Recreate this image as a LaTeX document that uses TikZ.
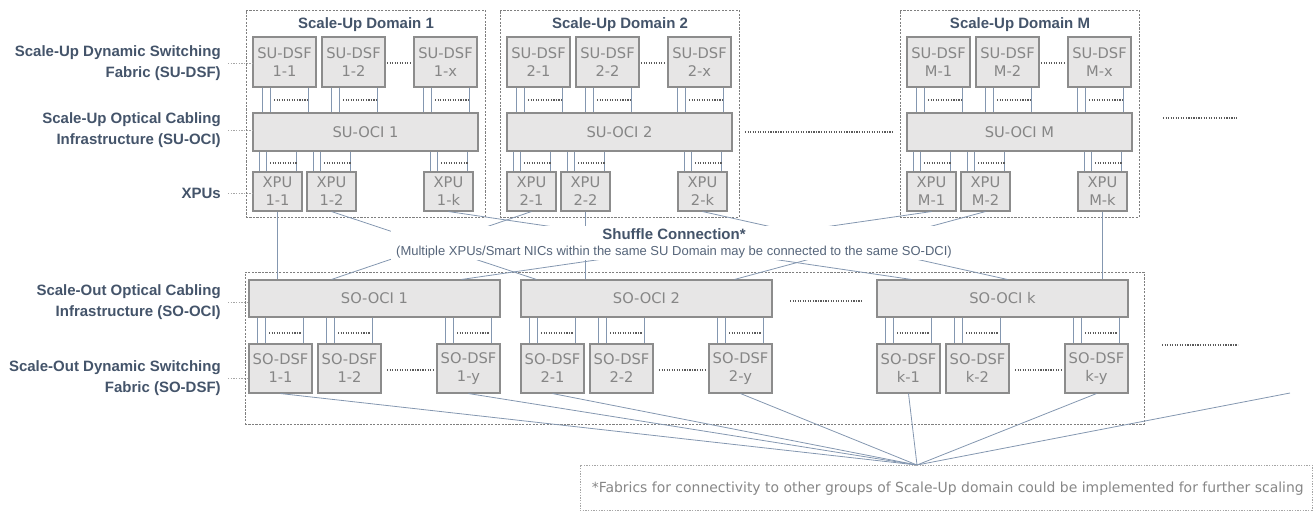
\documentclass[tikz,border=0pt]{standalone}
\usepackage{fontspec}
\setmainfont{Liberation Sans}
\newfontfamily\boxfont{DejaVu Sans}
\usetikzlibrary{fit,calc}

\definecolor{labelblue}{HTML}{44546A}
\definecolor{subblue}{HTML}{56657A}
\definecolor{boxfill}{HTML}{E7E6E6}
\definecolor{boxline}{HTML}{8C8C8C}
\definecolor{boxtext}{HTML}{868686}
\definecolor{linkcol}{HTML}{8497B0}
\definecolor{framecol}{HTML}{7F7F7F}
\definecolor{dotcol}{HTML}{5A5A5A}
\definecolor{notecol}{HTML}{A6A6A6}

\tikzset{
  box/.style={draw=boxline, fill=boxfill, line width=0.8pt, inner sep=0pt,
    align=center, text=boxtext, font=\boxfont\fontsize{11}{13.5}\selectfont},
  dsfbox/.style={box, minimum width=47.25pt, minimum height=37.5pt},
  xpubox/.style={box, minimum width=36.75pt, minimum height=29.25pt},
  suocibox/.style={box, minimum width=168.75pt, minimum height=28.5pt},
  soocibox/.style={box, minimum width=188.25pt, minimum height=27.75pt},
  sodsfbox/.style={box, minimum width=47.25pt, minimum height=36.75pt},
  frame/.style={draw=framecol, dash pattern=on 1.6pt off 1pt, line width=0.6pt, inner sep=0pt},
  noteframe/.style={draw=notecol, dash pattern=on 1pt off 1pt, line width=0.6pt, inner sep=0pt},
  link/.style={draw=linkcol, line width=0.6pt},
  dots/.style={draw=dotcol, line width=1.4pt, dash pattern=on 0.9pt off 1pt},
  leader/.style={draw=notecol, dash pattern=on 1pt off 1pt, line width=0.5pt},
  layerlabel/.style={font=\bfseries\fontsize{11.25}{15.75}\selectfont, text=labelblue,
    align=right, anchor=east, inner sep=0pt},
  domtitle/.style={font=\bfseries\fontsize{11.25}{13}\selectfont, text=labelblue, inner sep=0pt},
  notetext/.style={font=\boxfont\fontsize{10.45}{12}\selectfont, text=boxtext, inner sep=0pt},
}

% three parallel links between an upper node #1 and a lower node #2,
% placed at x-offsets #4, #5 from the left and #6 from the right of node #3
\newcommand\stublinks[6]{%
  \draw[link] ($(#3.west |- #1.south)+(#4,0)$) -- ($(#3.west |- #2.north)+(#4,0)$);
  \draw[link] ($(#3.west |- #1.south)+(#5,0)$) -- ($(#3.west |- #2.north)+(#5,0)$);
  \draw[link] ($(#3.east |- #1.south)+(-#6,0)$) -- ($(#3.east |- #2.north)+(-#6,0)$);
}

\begin{document}
\begin{tikzpicture}[x=0.75pt,y=-0.75pt]
\useasboundingbox (0,0) rectangle (1314,512);

% ---------------- Scale-Up domains ----------------
\foreach \d/\x in {1/253,2/507,M/907}{
  \node[frame, fit={(\x-7,10)(\x+232,217)}] (dom\d) {};
  \node[domtitle] (dtitle\d) at (\x+113,25) {Scale-Up Domain \d};
  \node[suocibox] (suoci\d) at (\x+112.5,132) {SU-OCI \d};
  % switching fabric boxes and their links down to the cabling layer
  \foreach \n/\o in {1/0,2/69,x/161}{
    \node[dsfbox] (sudsf\d-\n) at (\x+\o+31.5,62) {SU-DSF\\\d-\n};
    \stublinks{sudsf\d-\n}{suoci\d}{sudsf\d-\n}{10}{18}{8}
    \draw[dots] (\x+\o+21,100) -- (\x+\o+54,100);
  }
  \draw[dots] (\x+134,63) -- (\x+157,63);
  % XPUs and their links up to the cabling layer
  \foreach \n/\o in {1/0,2/54,k/171}{
    \node[xpubox] (xpu\d-\n) at (\x+\o+24.5,191.5) {XPU\\\d-\n};
    \stublinks{suoci\d}{xpu\d-\n}{xpu\d-\n}{7}{14}{6}
    \draw[dots] (\x+\o+17,163) -- (\x+\o+44,163);
  }
}
\draw[dots] (745,132) -- (893,132);
\draw[dots] (1163,118) -- (1237,118);

% ---------------- Scale-Out layer ----------------
\node[frame, fit={(245,272)(1144,424)}] (soframe) {};
\foreach \g/\x in {1/249,2/521,k/877}{
  \node[soocibox] (sooci\g) at (\x+125.5,298.5) {SO-OCI \g};
  \foreach \n/\o in {1/0,2/69,y/188}{
    \node[sodsfbox] (sodsf\g-\n) at (\x+\o+31.5,368.5) {SO-DSF\\\g-\n};
    \stublinks{sooci\g}{sodsf\g-\n}{sodsf\g-\n}{9}{17}{9}
    \draw[dots] (\x+\o+20,333) -- (\x+\o+52,333);
  }
  \draw[dots] (\x+138,370) -- (\x+186,370);
}
\draw[dots] (790,301) -- (863,301);
\draw[dots] (1162,345) -- (1238,345);

% ---------------- Shuffle connection ----------------
\draw[link] (xpu1-1.south) -- (xpu1-1.south |- sooci1.north);
\draw[link] (xpu2-1.south) -- ($(sooci1.north west)+(83,0)$);
\draw[link] (xpuM-1.south) -- ($(sooci1.north west)+(213,0)$);
\draw[link] (xpu1-2.south) -- ($(sooci2.north west)+(16,0)$);
\draw[link] (xpu2-2.south) -- (xpu2-2.south |- sooci2.north);
\draw[link] (xpuM-2.south) -- ($(sooci2.north west)+(214,0)$);
\draw[link] (xpu1-k.south) -- ($(soocik.north west)+(35,0)$);
\draw[link] (xpu2-k.south) -- ($(soocik.north west)+(131,0)$);
\draw[link] (xpuM-k.south) -- (xpuM-k.south |- soocik.north);

\node[fill=white, inner xsep=4pt, inner ysep=2pt, align=center] (shuffle) at (674,243)
  {{\bfseries\fontsize{11.25}{12.75}\selectfont\color{labelblue}Shuffle Connection*}\\
   {\fontsize{9.75}{12.75}\selectfont\color{subblue}(Multiple XPUs/Smart NICs within the same SU Domain may be connected to the same SO-DCI)}};

% ---------------- Fabric fan-out ----------------
\coordinate (hub) at (917,465);
\coordinate (farend) at (1290,393);
\foreach \s in {1-1,1-y,2-1,2-y,k-1,k-y}
  \draw[link] (sodsf\s.south) -- (hub);
\draw[link] (farend) -- (hub);

\node[noteframe, fit={(580,465)(1312,510)}] (note) {};
\node[notetext, anchor=west] (notetxt) at ($(note.west)+(12,1)$)
  {*Fabrics for connectivity to other groups of Scale-Up domain could be implemented for further scaling};

% ---------------- Layer labels ----------------
\node[layerlabel] (lsudsf) at (221,63) {Scale-Up Dynamic Switching\\Fabric (SU-DSF)};
\node[layerlabel] (lsuoci) at (221,130) {Scale-Up Optical Cabling\\Infrastructure (SU-OCI)};
\node[layerlabel] (lxpu) at (221,193) {XPUs};
\node[layerlabel] (lsooci) at (221,302) {Scale-Out Optical Cabling\\Infrastructure (SO-OCI)};
\node[layerlabel] (lsodsf) at (221,378) {Scale-Out Dynamic Switching\\Fabric (SO-DSF)};

\draw[leader] ($(lsudsf.east)+(7,0)$) -- (lsudsf.east -| sudsf1-1.west);
\draw[leader] ($(lsuoci.east)+(7,0)$) -- (lsuoci.east -| suoci1.west);
\draw[leader] ($(lxpu.east)+(7,0)$) -- (lxpu.east -| xpu1-1.west);
\draw[leader] ($(lsooci.east)+(7,0)$) -- (lsooci.east -| sooci1.west);
\draw[leader] ($(lsodsf.east)+(7,0)$) -- (lsodsf.east -| sodsf1-1.west);
\end{tikzpicture}
\end{document}
